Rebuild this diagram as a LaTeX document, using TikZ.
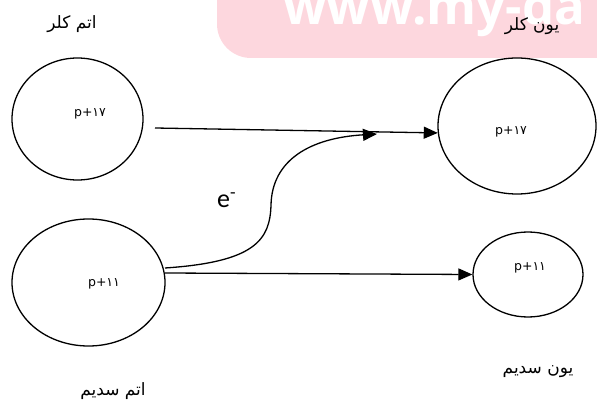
\documentclass[tikz,border=0pt]{standalone}
\usepackage{fontspec}
\setmainfont{Carlito}
\newfontfamily\arabicfont[Script=Arabic]{DejaVu Sans}
\newfontfamily\wmfont{Open Sans}
\TeXXeTstate=1
\usetikzlibrary{shapes.geometric,arrows.meta}
\definecolor{wmpink}{RGB}{253,215,222}
\begin{document}
\begin{tikzpicture}[x=1pt,y=-1pt,
  atom/.style={ellipse,draw,line width=1.3pt,inner sep=0pt},
  plabel/.style={font=\arabicfont\fontsize{12.5}{14}\selectfont,inner sep=0pt},
  falabel/.style={font=\arabicfont\fontsize{17}{20}\selectfont,inner sep=0pt},
  arr/.style={line width=1.3pt,-{Triangle[length=14pt,width=12pt]}}]
\useasboundingbox (0,0) rectangle (597,403);
\begin{scope}
\clip (0,0) rectangle (597,403);
\fill[wmpink, rounded corners=34pt] (217,-60) rectangle (660,58);
\node[anchor=base west, font=\wmfont\bfseries\fontsize{51}{51}\selectfont, text=white, inner sep=0pt] (wm) at (283,25) {www.my-da};
\end{scope}
% atoms and ions
\node[atom, minimum width=131pt, minimum height=122pt] (clA) at (77.5,119) {};
\node[atom, minimum width=153pt, minimum height=127pt] (naA) at (88.5,282.5) {};
\node[atom, minimum width=158pt, minimum height=136pt] (clI) at (517,126) {};
\node[atom, minimum width=110pt, minimum height=85pt] (naI) at (528,274.5) {};
\node[plabel] (clAp) at (90,114) {p+۱۷};
\node[plabel] (naAp) at (104,284) {p+۱۱};
\node[plabel] (clIp) at (511,132) {p+۱۷};
\node[plabel] (naIp) at (530,268) {p+۱۱};
% titles
\node[falabel] (t1) at (72,24) {\beginR اتم کلر\endR};
\node[falabel] (t2) at (113,391) {\beginR اتم سدیم\endR};
\node[falabel] (t3) at (532,26) {\beginR یون کلر\endR};
\node[falabel] (t4) at (538,372) {\beginR یون سدیم\endR};
\node[anchor=base west, font=\fontsize{26}{28}\selectfont, inner sep=0pt] (el) at (217,208) {e\textsuperscript{-}};
% connectors
\coordinate (a1) at (155,128);
\coordinate (a2) at (165,273);
\coordinate (c0) at (165,268);
\coordinate (c1) at (377,134);
\draw[arr] (a1) -- (clI.185);
\draw[arr] (a2) -- (naI.west);
\draw[arr] (c0) .. controls (255,262) and (270,240) .. (271,205) .. controls (272,160) and (310,138) .. (c1);
\end{tikzpicture}
\end{document}
